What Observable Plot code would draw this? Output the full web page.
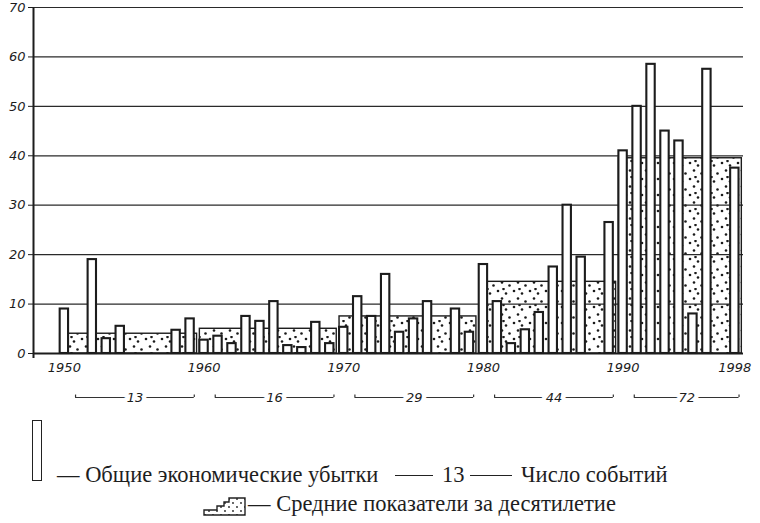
<!DOCTYPE html>
<html>
<head>
<meta charset="utf-8">
<script src="https://cdn.jsdelivr.net/npm/d3@7"></script>
<script src="https://cdn.jsdelivr.net/npm/@observablehq/plot@0.6"></script>
<style>
  html, body { margin: 0; padding: 0; background: #fff; }
  #wrap { position: relative; width: 760px; height: 523px; overflow: hidden; background: #fff; }
  #chart svg { display: block; }
  .lg { position: absolute; font-family: "Liberation Serif", "DejaVu Serif", serif; font-size: 22.5px; color: #1e1e1e; white-space: nowrap; line-height: 22px; }
  .dash { position: absolute; border-top: 1.6px solid #222; height: 0; }
</style>
</head>
<body>
<div id="wrap">
  <div id="chart"></div>
  <div id="legend"></div>
</div>
<script>
// ---- data ----
const years  = [1950, 1952, 1953, 1954, 1958, 1959,
                1960, 1961, 1962, 1963, 1964, 1965, 1966, 1967, 1968, 1969,
                1970, 1971, 1972, 1973, 1974, 1975, 1976, 1978, 1979,
                1980, 1981, 1982, 1983, 1984, 1985, 1986, 1987, 1989,
                1990, 1991, 1992, 1993, 1994, 1995, 1996, 1998];
const losses = [9, 19, 3, 5.5, 4.7, 7,
                2.7, 3.5, 2, 7.5, 6.5, 10.5, 1.6, 1.2, 6.3, 2,
                5.3, 11.5, 7.5, 16, 4.3, 7, 10.5, 9, 4.3,
                18, 10.5, 2, 4.8, 8.3, 17.5, 30, 19.5, 26.5,
                41, 50, 58.5, 45, 43, 8, 57.5, 37.5];
const decadeStart  = [1950, 1960, 1970, 1980, 1990];
const decadeEnd    = [1959, 1969, 1979, 1989, 1998];
const decadeAvg    = [4, 5, 7.5, 14.5, 39.5];
const decadeEvents = [13, 16, 29, 44, 72];
const yTicks = [0, 10, 20, 30, 40, 50, 60, 70];
const xTicks = [1950, 1960, 1970, 1980, 1990, 1998];

const bars = years.map((year, i) => ({year, loss: losses[i]}));
const decades = decadeStart.map((start, i) => ({start, end: decadeEnd[i], avg: decadeAvg[i], events: decadeEvents[i]}));

const ink = "#1c1c1c";
const hand = {fontFamily: "DejaVu Sans", fontStyle: "italic", fontSize: 13};
const xDomain = [1947.79, 1998.62];

const chart = Plot.plot({
  width: 760,
  height: 412,
  marginLeft: 33,
  marginRight: 17,
  marginTop: 7,
  marginBottom: 59,
  x: {domain: xDomain, axis: null},
  y: {domain: [0, 70], axis: null},
  style: {background: "white", color: ink, overflow: "visible"},
  marks: [
    // decade averages: dotted stepped area
    Plot.rect(decades, {x1: d => d.start - 0.3, x2: d => d.end + 0.5, y1: () => 0, y2: "avg", fill: "url(#dots)"}),
    // grid lines
    Plot.ruleY(yTicks.filter(t => t > 0), {stroke: "#2a2a2a", strokeWidth: 1.2}),
    Plot.rect(decades, {x1: d => d.start - 0.3, x2: d => d.end + 0.5, y1: () => 0, y2: "avg", fill: "none", stroke: ink, strokeWidth: 1.4}),
    // yearly total economic losses
    Plot.rect(bars, {x1: d => d.year - 0.3, x2: d => d.year + 0.3, y1: () => 0, y2: "loss", fill: "white", stroke: ink, strokeWidth: 2.1}),
    // baseline and y axis line
    Plot.ruleY([0], {stroke: ink, strokeWidth: 2}),
    Plot.ruleX([xDomain[0]], {y1: -1, y2: 70, stroke: ink, strokeWidth: 2}),
    Plot.axisY({ticks: yTicks, tickSize: 5, tickPadding: 3, tickFormat: d => `${d}`, ...hand, fill: ink}),
    Plot.axisX({ticks: xTicks, tickSize: 0, tickPadding: 9, tickFormat: d => `${d}`, ...hand, fill: ink}),
    // number of events per decade
    Plot.ruleY(decades, {y: () => 0, x1: d => d.start + 0.8, x2: d => d.end + 0.3, dy: 44, stroke: "#333", strokeWidth: 1.2}),
    Plot.ruleX(decades, {x: d => d.start + 0.8, y1: () => 0, y2: () => 0.5, dy: 44, stroke: "#333", strokeWidth: 1.2}),
    Plot.ruleX(decades, {x: d => d.end + 0.3, y1: () => 0, y2: () => 0.5, dy: 44, stroke: "#333", strokeWidth: 1.2}),
    Plot.text(decades, {x: d => (d.start + 0.8 + d.end + 0.3) / 2, y: () => 0, dy: 44, text: d => `${d.events}`,
      ...hand, fill: ink, stroke: "white", strokeWidth: 9, paintOrder: "stroke"})
  ]
});

// dotted pattern used by the decade-average areas
const svg = d3.select(chart);
const defs = svg.insert("defs", ":first-child");
const pat = defs.append("pattern").attr("id", "dots").attr("patternUnits", "userSpaceOnUse")
  .attr("width", 16).attr("height", 16);
pat.append("rect").attr("width", 16).attr("height", 16).attr("fill", "white");
[[2, 3], [10, 5.5], [6, 10.5], [13.5, 13.5], [7.5, 1]].forEach(([cx, cy]) =>
  pat.append("circle").attr("cx", cx).attr("cy", cy).attr("r", 1.3).attr("fill", "#1a1a1a"));
document.getElementById("chart").appendChild(chart);

// ---- legend ----
const legend = document.getElementById("legend");
legend.innerHTML = `
  <div style="position:absolute;left:32px;top:420px;width:8px;height:59px;border:1.6px solid #222;"></div>
  <div class="lg" style="left:57px;top:464px;">— Общие экономические убытки</div>
  <div class="dash" style="left:395px;top:475px;width:38px;"></div>
  <div class="lg" style="left:442px;top:464px;">13</div>
  <div class="dash" style="left:470px;top:475px;width:42px;"></div>
  <div class="lg" style="left:521px;top:464px;">Число событий</div>
  <svg style="position:absolute;left:203px;top:497px;" width="44" height="20">
    <path d="M1,18 L1,13 L14,13 L14,9 L21,9 L21,5 L26,5 L26,1 L42,1 L42,18 Z" fill="url(#dots2)" stroke="#222" stroke-width="1.4"/>
    <defs><pattern id="dots2" patternUnits="userSpaceOnUse" width="8" height="8">
      <rect width="8" height="8" fill="white"/><circle cx="2" cy="2" r="0.9" fill="#222"/><circle cx="6" cy="6" r="0.9" fill="#222"/>
    </pattern></defs>
  </svg>
  <div class="lg" style="left:248px;top:493px;">— Средние показатели за десятилетие</div>
`;
</script>
</body>
</html>
